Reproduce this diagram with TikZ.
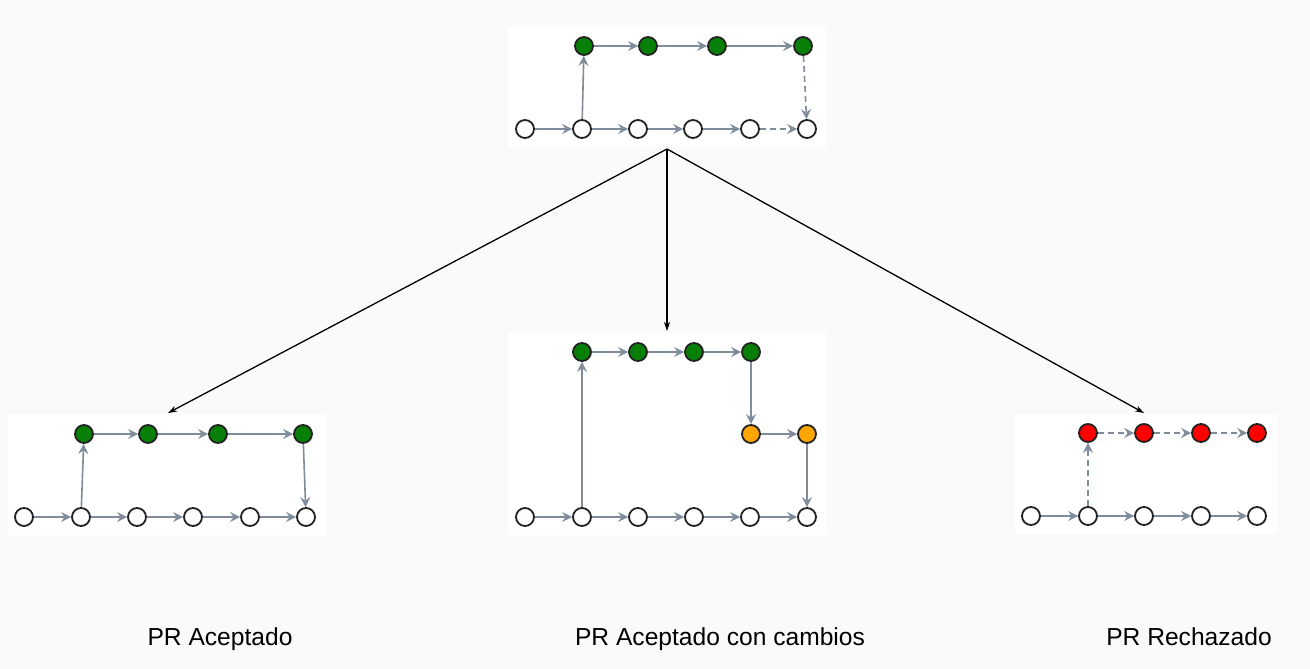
\documentclass[tikz,border=0pt]{standalone}
\usepackage{fontspec}
\setmainfont{Liberation Sans}
\usetikzlibrary{arrows.meta}
\definecolor{bg}{HTML}{FAFAFA}
\definecolor{edgegray}{HTML}{7F8C9B}
\definecolor{gfill}{HTML}{088008}
\definecolor{ofill}{HTML}{FFA500}
\definecolor{rfill}{HTML}{FF0000}
\definecolor{nborder}{HTML}{222222}
\tikzset{
  commit/.style={circle, minimum size=18pt, inner sep=0pt, draw=nborder, line width=1.8pt, fill=white},
  green/.style={commit, fill=gfill},
  orange/.style={commit, fill=ofill},
  red/.style={commit, fill=rfill},
  link/.style={draw=edgegray, line width=1.6pt, -{Stealth[length=10pt,width=10pt,inset=3.5pt]}},
  dlink/.style={link, dash pattern=on 6pt off 4pt},
  panel/.style={fill=white, draw=none},
  flow/.style={draw=black, line width=1.3pt, -{Stealth[length=9pt,width=6pt]}},
  caption/.style={font=\fontsize{24.6pt}{28pt}\selectfont, text=black, anchor=base}
}
\begin{document}
\begin{tikzpicture}[x=1pt,y=-1pt]
\fill[bg] (0,0) rectangle (1310,669);
\useasboundingbox (0,0) rectangle (1310,669);
% panels
\fill[panel] (508,27) rectangle (827,147);
\fill[panel] (8,414) rectangle (326,535);
\fill[panel] (508,333) rectangle (827,535);
\fill[panel] (1015,414) rectangle (1277,534);

% ---- top panel ----
\foreach \n/\x in {0/525,1/582,2/638,3/693,4/750,5/807}
  \node[commit] (a\n) at (\x,129) {};
\foreach \n/\x in {0/584,1/648,2/717,3/803}
  \node[green] (at\n) at (\x,46) {};
\draw[link] (a0) -- (a1);
\draw[link] (a1) -- (a2);
\draw[link] (a2) -- (a3);
\draw[link] (a3) -- (a4);
\draw[dlink] (a4) -- (a5);
\draw[link] (a1) -- (at0);
\draw[link] (at0) -- (at1);
\draw[link] (at1) -- (at2);
\draw[link] (at2) -- (at3);
\draw[dlink] (at3) -- (a5);

% ---- left panel ----
\foreach \n/\x in {0/24,1/81,2/137,3/193,4/250,5/306}
  \node[commit] (b\n) at (\x,517) {};
\foreach \n/\x in {0/84,1/148,2/218,3/303}
  \node[green] (bt\n) at (\x,434) {};
\draw[link] (b0) -- (b1);
\draw[link] (b1) -- (b2);
\draw[link] (b2) -- (b3);
\draw[link] (b3) -- (b4);
\draw[link] (b4) -- (b5);
\draw[link] (b1) -- (bt0);
\draw[link] (bt0) -- (bt1);
\draw[link] (bt1) -- (bt2);
\draw[link] (bt2) -- (bt3);
\draw[link] (bt3) -- (b5);

% ---- center panel ----
\foreach \n/\x in {0/525,1/582,2/638,3/694,4/750,5/807}
  \node[commit] (c\n) at (\x,517) {};
\foreach \n/\x in {0/582,1/638,2/694,3/751}
  \node[green] (ct\n) at (\x,352) {};
\node[orange] (co0) at (751,434) {};
\node[orange] (co1) at (807,434) {};
\draw[link] (c0) -- (c1);
\draw[link] (c1) -- (c2);
\draw[link] (c2) -- (c3);
\draw[link] (c3) -- (c4);
\draw[link] (c4) -- (c5);
\draw[link] (c1) -- (ct0);
\draw[link] (ct0) -- (ct1);
\draw[link] (ct1) -- (ct2);
\draw[link] (ct2) -- (ct3);
\draw[link] (ct3) -- (co0);
\draw[link] (co0) -- (co1);
\draw[link] (co1) -- (c5);

% ---- right panel ----
\foreach \n/\x in {0/1031,1/1088,2/1144,3/1201,4/1257}
  \node[commit] (d\n) at (\x,516) {};
\foreach \n/\x in {0/1088,1/1144,2/1201,3/1257}
  \node[red] (dt\n) at (\x,433) {};
\draw[link] (d0) -- (d1);
\draw[link] (d1) -- (d2);
\draw[link] (d2) -- (d3);
\draw[link] (d3) -- (d4);
\draw[dlink] (d1) -- (dt0);
\draw[dlink] (dt0) -- (dt1);
\draw[dlink] (dt1) -- (dt2);
\draw[dlink] (dt2) -- (dt3);

% ---- flow arrows ----
\coordinate (src) at (667,149);
\coordinate (tl) at (168,413);
\coordinate (tc) at (667,331);
\coordinate (tr) at (1144,413);
\draw[flow] (src) -- (tl);
\draw[flow] (src) -- (tc);
\draw[flow] (src) -- (tr);

% ---- captions ----
\node[caption] (l1) at (220,645) {PR Aceptado};
\node[caption] (l2) at (720,645) {PR Aceptado con cambios};
\node[caption] (l3) at (1189,645) {PR Rechazado};
\end{tikzpicture}
\end{document}
